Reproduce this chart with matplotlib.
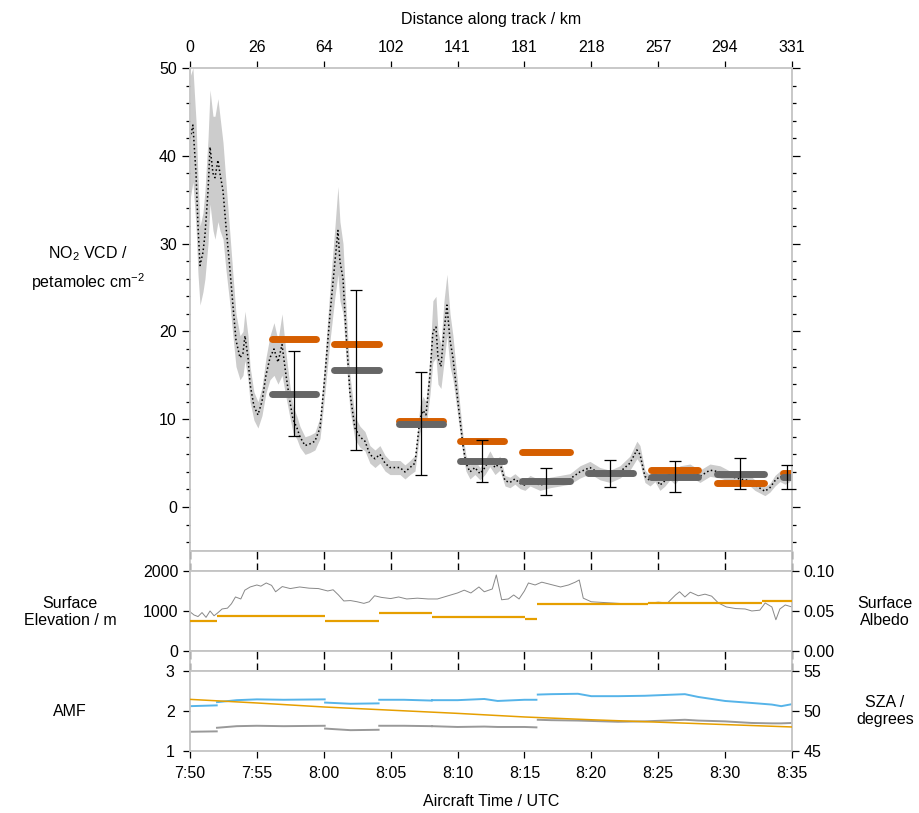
import matplotlib
matplotlib.use("Agg")
import matplotlib.pyplot as plt
import numpy as np

plt.rcParams['font.family'] = ['Liberation Sans', 'DejaVu Sans']
plt.rcParams['mathtext.fontset'] = 'custom'
plt.rcParams['mathtext.rm'] = 'Liberation Sans'
plt.rcParams['mathtext.it'] = 'Liberation Sans:italic'
plt.rcParams['font.size'] = 11.5

############# DATA (time in minutes after 7:50 UTC) ################
time_ticks = [0, 5, 10, 15, 20, 25, 30, 35, 40, 45]
time_labels = ["7:50", "7:55", "8:00", "8:05", "8:10", "8:15", "8:20", "8:25", "8:30", "8:35"]
dist_labels = ["0", "26", "64", "102", "141", "181", "218", "257", "294", "331"]

# aircraft NO2 VCD and its uncertainty
vcd_time = [0.0, 0.22, 0.45, 0.6, 0.75, 0.97, 1.12, 1.35, 1.5, 1.72, 1.87, 2.09, 2.24, 2.47,
            2.69, 2.99, 3.21, 3.44, 3.74, 3.96, 4.11, 4.34, 4.49, 4.78, 5.08, 5.38, 5.68,
            5.98, 6.28, 6.58, 6.88, 7.18, 7.47, 7.70, 8.0, 8.22, 8.60, 8.97, 9.34, 9.72,
            10.09, 10.47, 10.84, 11.06, 11.21, 11.44, 11.66, 11.96, 12.33, 12.71, 13.08,
            13.45, 13.83, 14.2, 14.58, 14.95, 15.32, 15.7, 16.07, 16.45, 16.82, 17.19,
            17.42, 17.64, 17.94, 18.16, 18.39, 18.54, 18.76, 18.99, 19.21, 19.44, 19.66,
            19.88, 20.18, 20.41, 20.63, 20.93, 21.3, 21.68, 22.05, 22.42, 22.8, 23.17,
            23.55, 23.92, 24.29, 24.67, 25.04, 25.42, 26.16, 26.91, 27.66, 28.4, 29.15,
            29.9, 30.65, 31.4, 32.14, 32.89, 33.41, 33.64, 34.01, 34.39, 34.76, 35.13,
            35.51, 35.88, 36.25, 36.63, 37.38, 38.12, 38.87, 39.62, 40.37, 41.11, 41.86,
            42.23, 42.98, 43.35, 43.73, 44.1, 44.48, 44.85]
vcd = [42, 43.5, 38, 32, 27.5, 29, 31, 36, 41, 38, 37.5, 39.5, 38, 36,
       32, 27, 23, 19, 17, 17.5, 19.5, 17, 14, 11.5, 10.5, 12, 15,
       17, 18, 16.5, 18.5, 15, 12, 10, 9, 8, 7, 7.2, 7.5, 9,
       15, 22, 28, 31.5, 28, 26, 20, 13, 9, 8, 7.5,
       6, 5.5, 6, 5, 4.5, 4.5, 4.5, 4, 4.5, 5, 10,
       11, 10.5, 15, 20, 20.5, 17, 16, 20, 23, 19, 17,
       14, 10, 7, 5, 4, 4.5, 3.8, 4.5, 5.5, 4.5, 5,
       3, 2.8, 3.2, 2.7, 2.5, 3, 2.5, 2.8, 3, 3.2, 4,
       4.5, 3.8, 3.5, 4, 5, 6.5, 6, 3.5, 3, 3.5, 2.5,
       3, 3.8, 3.2, 4, 4.2, 3.5, 4.2, 4, 3.5, 3.2, 3,
       2.5, 1.8, 2.2, 3, 3.5, 3.2, 3.5]
vcd_err = [7, 6.5, 6, 5.5, 4.5, 4.5, 5, 6, 6.5, 6.5, 7, 7, 6.5, 5.5,
           5, 4, 3.5, 3, 2.5, 2.5, 2.8, 2.5, 2, 1.6, 1.5, 1.6, 2,
           2.5, 3, 2.5, 3.5, 2.5, 1.8, 1.5, 1.3, 1.2, 1, 1, 1, 1.2,
           2, 3, 4, 5, 4.5, 4, 3, 2, 1.3, 1.2, 1.1,
           1, 1, 1, 0.9, 0.8, 0.8, 0.8, 0.8, 0.8, 0.9, 1.5,
           1.6, 1.5, 2.2, 3.5, 3.5, 3, 2.5, 3.5, 3.5, 3, 2.5,
           2, 1.5, 1.1, 0.9, 0.8, 0.8, 0.7, 0.8, 0.9, 0.8, 0.8,
           0.6, 0.6, 0.6, 0.6, 0.6, 0.6, 0.6, 0.6, 0.6, 0.6, 0.7,
           0.7, 0.7, 0.7, 0.7, 0.8, 1, 1, 0.7, 0.6, 0.6, 0.6,
           0.6, 0.7, 0.6, 0.7, 0.7, 0.7, 0.7, 0.7, 0.6, 0.6, 0.6,
           0.6, 0.5, 0.5, 0.6, 0.6, 0.6, 0.6]

# satellite pixel VCDs
sat_start = [6.1, 10.75, 15.6, 20.2, 24.8, 29.75, 34.5, 39.4, 44.3]
sat_end = [9.4, 14.1, 18.9, 23.5, 28.4, 33.1, 38.0, 42.9, 44.9]
sat_orange = [19.1, 18.6, 9.8, 7.5, 6.3, np.nan, 4.2, 2.7, 3.9]
sat_gray = [12.9, 15.6, 9.5, 5.25, 2.95, 3.85, 3.45, 3.8, 3.4]
sat_gray_err = [4.85, 9.1, 5.9, 2.4, 1.55, 1.55, 1.75, 1.75, 1.4]

# surface elevation (m)
elev_time = [0.0, 0.3, 0.6, 0.9, 1.2, 1.5, 1.8, 2.1, 2.4, 2.8, 3.1, 3.4, 3.8, 4.1, 4.5,
             5.0, 5.3, 5.7, 6.1, 6.4, 6.9, 7.5, 8.2, 8.9, 9.6, 10.3, 10.7, 11.1, 11.5,
             12.0, 12.5, 13.0, 13.4, 13.8, 14.3, 15.0, 15.6, 16.2, 17.0, 17.8, 18.5,
             19.2, 20.0, 20.5, 21.0, 21.6, 22.0, 22.6, 22.9, 23.3, 23.8, 24.2, 24.6,
             25.0, 25.3, 25.8, 26.3, 27.0, 27.7, 28.3, 28.8, 29.1, 29.4, 30.0, 31.0,
             32.0, 33.0, 34.0, 35.0, 35.7, 36.3, 36.6, 37.0, 37.4, 38.0, 38.5, 39.0,
             39.5, 40.1, 40.8, 41.5, 42.0, 42.6, 43.0, 43.5, 43.8, 44.1, 44.5, 45.0]
elev = [980, 900, 860, 960, 840, 1000, 880, 960, 1050, 1070, 1180, 1350, 1300, 1520, 1600,
        1650, 1620, 1700, 1640, 1480, 1610, 1560, 1600, 1570, 1560, 1500, 1530, 1400, 1250,
        1260, 1230, 1190, 1230, 1380, 1340, 1310, 1350, 1300, 1320, 1300, 1300,
        1370, 1450, 1520, 1450, 1600, 1480, 1550, 1900, 1280, 1300, 1400, 1300,
        1500, 1700, 1650, 1720, 1660, 1600, 1650, 1720, 1775, 1320, 1230, 1210,
        1190, 1170, 1180, 1220, 1200, 1400, 1480, 1350, 1470, 1380, 1420, 1370,
        1200, 1100, 1060, 1050, 1000, 1020, 1200, 1100, 780, 1050, 1150, 1100]

# surface albedo per satellite pixel
alb_start = [0.0, 2.02, 10.09, 14.13, 18.09, 25.04, 25.94, 34.24, 42.76]
alb_end = [2.02, 10.09, 14.13, 18.09, 25.04, 25.94, 34.24, 42.76, 45.0]
albedo = [0.038, 0.044, 0.038, 0.047, 0.0425, 0.040, 0.059, 0.060, 0.0625]

# air mass factors (nan = break between pixels)
amf_time = [0.0, 2.0, np.nan, 2.02, 3.5, 5.0, 7.0, 10.07, np.nan, 10.1, 12.0, 14.1, np.nan,
            14.15, 16.0, 18.07, np.nan, 18.1, 20.0, 22.0, 23.0, 25.0, 25.9, np.nan,
            26.0, 27.0, 29.0, 30.0, 32.0, 34.0, 37.0, 38.0, 40.0, 42.0, 43.5, 44.2, 45.0]
amf_blue = [2.12, 2.14, np.nan, 2.22, 2.27, 2.29, 2.28, 2.29, np.nan, 2.21, 2.18, 2.19, np.nan,
            2.28, 2.28, 2.26, np.nan, 2.27, 2.27, 2.30, 2.25, 2.28, 2.28, np.nan,
            2.41, 2.42, 2.43, 2.37, 2.37, 2.38, 2.42, 2.35, 2.25, 2.20, 2.16, 2.12, 2.17]
amf_gray = [1.48, 1.49, np.nan, 1.58, 1.62, 1.63, 1.62, 1.63, np.nan, 1.56, 1.52, 1.53, np.nan,
            1.63, 1.63, 1.62, np.nan, 1.62, 1.60, 1.61, 1.60, 1.60, 1.59, np.nan,
            1.78, 1.77, 1.76, 1.75, 1.73, 1.74, 1.78, 1.76, 1.74, 1.70, 1.69, 1.69, 1.70]

# solar zenith angle (degrees)
sza_time = [0, 5, 10, 15, 20, 25, 30, 35, 40, 45]
sza = [51.45, 51.0, 50.5, 50.1, 49.7, 49.25, 48.9, 48.6, 48.3, 48.0]

############# FIGURE ################
spine_col = '#c4c4c4'
orange = '#d55e00'
yellow = '#e69f00'
blue = '#56b4e9'

fig = plt.figure(figsize=(9.2, 8.13), dpi=100)
left, width = 0.2065, 0.6543
ax = fig.add_axes([left, 0.3223, width, 0.5941])
strip1 = fig.add_axes([left, 0.2977, width, 0.0246])
ax2 = fig.add_axes([left, 0.1993, width, 0.0984])
strip2 = fig.add_axes([left, 0.1747, width, 0.0246])
ax3 = fig.add_axes([left, 0.0763, width, 0.0984])

for a in [ax, strip1, ax2, strip2, ax3]:
    a.set_xlim(0, 45)
    for s in a.spines.values():
        s.set_color(spine_col)
        s.set_linewidth(1.3)

# ---- main panel
vcd_a = np.array(vcd)
err_a = np.array(vcd_err)
ax.fill_between(vcd_time, vcd_a - err_a, vcd_a + err_a, color='#cccccc', lw=0)
ax.plot(vcd_time, vcd, ls=':', color='k', lw=1.1)
for i in range(len(sat_start)):
    ax.plot([sat_start[i], sat_end[i]], [sat_orange[i]] * 2, color=orange, lw=5,
            solid_capstyle='round')
    ax.plot([sat_start[i], sat_end[i]], [sat_gray[i]] * 2, color='#666666', lw=5,
            solid_capstyle='round')
sat_mid = (np.array(sat_start) + np.array(sat_end)) / 2
ax.errorbar(sat_mid, sat_gray, yerr=sat_gray_err, fmt='none', ecolor='k',
            elinewidth=0.9, capsize=4, capthick=0.9, zorder=5)
ax.set_ylim(-5, 50)
ax.set_yticks([0, 10, 20, 30, 40, 50])
ax.set_yticks(np.arange(-4, 50, 2), minor=True)
ax.tick_params(axis='y', which='both', left=True, right=True, direction='out')
ax.tick_params(axis='y', which='major', length=6, width=0.9)
ax.tick_params(axis='y', which='minor', length=3, width=0.9)
ax.xaxis.set_ticks_position('top')
ax.set_xticks(time_ticks)
ax.set_xticklabels(dist_labels)
ax.tick_params(axis='x', direction='out', length=5, width=0.9, pad=4)
ax.set_xlabel('Distance along track / km', labelpad=12)
ax.xaxis.set_label_position('top')
fig.text(0.096, 0.670, 'NO$_2$ VCD /\npetamolec cm$^{-2}$', ha='center', va='center',
         linespacing=1.5)

# ---- tick strips between panels
for s in [strip1, strip2]:
    s.set_yticks([])
    s.set_xticks(time_ticks)
    s.tick_params(axis='x', which='both', top=True, bottom=True, labelbottom=False,
                  direction='in', length=6, width=1.0)

# ---- elevation / albedo panel
ax2.plot(elev_time, elev, color='#888888', lw=0.7)
ax2.set_ylim(0, 2000)
ax2.set_yticks([0, 1000, 2000])
ax2.set_xticks([])
ax2.tick_params(axis='y', direction='out', length=5, width=0.9)
ax2r = ax2.twinx()
for s in ax2r.spines.values():
    s.set_visible(False)
ax2r.hlines(albedo, alb_start, alb_end, color=yellow, lw=1.6)
ax2r.set_ylim(0, 0.1)
ax2r.set_yticks([0, 0.05, 0.1])
ax2r.set_yticklabels(['0.00', '0.05', '0.10'])
ax2r.tick_params(axis='y', direction='out', length=5, width=0.9)
ax2r.set_xlim(0, 45)
fig.text(0.076, 0.247, 'Surface\nElevation / m', ha='center', va='center', linespacing=1.15)
fig.text(0.962, 0.247, 'Surface\nAlbedo', ha='center', va='center', linespacing=1.15)

# ---- AMF / SZA panel
ax3.plot(amf_time, amf_blue, color=blue, lw=1.4)
ax3.plot(amf_time, amf_gray, color='#999999', lw=1.4)
ax3.set_ylim(1, 3)
ax3.set_yticks([1, 2, 3])
ax3.set_xticks(time_ticks)
ax3.set_xticklabels(time_labels)
ax3.tick_params(axis='both', direction='out', length=5, width=0.9, pad=6)
ax3.set_xlabel('Aircraft Time / UTC', labelpad=9)
ax3r = ax3.twinx()
for s in ax3r.spines.values():
    s.set_visible(False)
ax3r.plot(sza_time, sza, color=yellow, lw=1.1)
ax3r.set_ylim(45, 55)
ax3r.set_yticks([45, 50, 55])
ax3r.tick_params(axis='y', direction='out', length=5, width=0.9)
ax3r.set_xlim(0, 45)
fig.text(0.076, 0.125, 'AMF', ha='center', va='center')
fig.text(0.962, 0.125, 'SZA /\ndegrees', ha='center', va='center', linespacing=1.15)

fig.savefig("out.png", dpi=100)
